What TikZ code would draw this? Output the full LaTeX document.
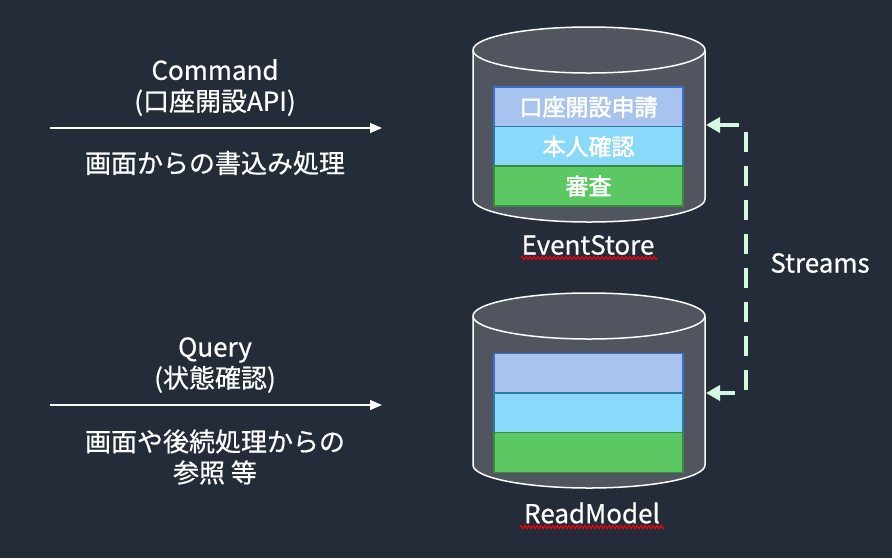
\documentclass[tikz,border=0pt]{standalone}
\usepackage{fontspec}
\setmainfont{Noto Sans CJK JP}
\newfontfamily\lblfont[FakeBold=0.6]{Noto Sans CJK JP}
\newfontfamily\rowfont[FakeBold=2]{Noto Sans CJK JP}
\usepackage{tikz}
\usetikzlibrary{arrows.meta}
\usetikzlibrary{decorations.pathmorphing}
\definecolor{bgnavy}{RGB}{36,44,58}
\definecolor{cylgray}{RGB}{80,85,96}
\definecolor{mint}{RGB}{212,247,226}
\definecolor{rowAfill}{RGB}{168,196,238}
\definecolor{rowAdraw}{RGB}{58,110,210}
\definecolor{rowBfill}{RGB}{138,216,250}
\definecolor{rowBdraw}{RGB}{46,120,168}
\definecolor{rowCfill}{RGB}{92,200,100}
\definecolor{rowCdraw}{RGB}{56,140,64}
\tikzstyle{lbl}=[text=white, font=\lblfont\fontsize{26}{31}\selectfont, align=center, inner sep=0pt]
\tikzstyle{rowbox}=[draw, line width=1.5pt, minimum width=189pt, minimum height=40pt, inner sep=0pt, text=white, font=\rowfont\fontsize{23}{23}\selectfont]
\tikzstyle{cyl}=[fill=cylgray, draw=white, line width=1.5pt]
\tikzstyle{flow}=[draw=white, line width=1.2pt, -{Triangle[length=12pt,width=10pt]}]
\tikzstyle{stream}=[draw=mint, line width=4pt, dash pattern=on 20pt off 14pt, {Triangle[length=14pt,width=15pt]}-{Triangle[length=14pt,width=15pt]}]
\tikzstyle{spell}=[draw=red, line width=1pt, decorate, decoration={zigzag, segment length=4pt, amplitude=1.5pt}]

\begin{document}
\begin{tikzpicture}[x=1pt, y=-1pt]

  \useasboundingbox (0,0) rectangle (892,558);
  \fill[bgnavy] (0,0) rectangle (892,558);

  \def\h{149};

  % the two stores
  \foreach \yc in {50, 316} {
    \draw[cyl] (473,\yc) -- (473,\yc+\h) arc[start angle=180, end angle=360, x radius=116pt, y radius=23pt]
       -- (705,\yc) arc[start angle=0, end angle=180, x radius=116pt, y radius=23pt] -- cycle;
    \draw[cyl, fill=none] (473,\yc) arc[start angle=180, end angle=360, x radius=116pt, y radius=23pt];
  }

  \foreach \y/\fc/\dc/\name/\txt in {107/rowAfill/rowAdraw/esA/口座開設申請, 146.5/rowBfill/rowBdraw/esB/本人確認, 186/rowCfill/rowCdraw/esC/審査,
                                     373.5/rowAfill/rowAdraw/rmA/{}, 413/rowBfill/rowBdraw/rmB/{}, 452.5/rowCfill/rowCdraw/rmC/{}}
          \node[rowbox, fill=\fc, draw=\dc] (\name) at (588.5,\y) {\txt};

  \node[lbl] (esname) at (588,245) {EventStore};
  \node[lbl] (rmname) at (592,513) {ReadModel};
  \draw[spell] (521,258) -- (657,258);
  \draw[spell] (520,527) -- (664,527);

  % left side
  \node[lbl] (cmd) at (215,87.5) {Command\\(口座開設API)};
  \node[lbl] (cmddesc) at (215,163) {画面からの書込み処理};
  \node[lbl] (qry) at (215,365) {Query\\(状態確認)};
  \node[lbl] (qrydesc) at (215,457) {画面や後続処理からの\\参照 等};

  \coordinate (cmdin) at (50,128);
  \coordinate (cmdout) at (382,128);
  \coordinate (qryin) at (50,405);
  \coordinate (qryout) at (382,405);
  \draw[flow] (cmdin) -- (cmdout);
  \draw[flow] (qryin) -- (qryout);

  % streams
  \coordinate (esport) at (706,125);
  \coordinate (rmport) at (706,393);
  \draw[stream] (esport) -- ++(40,0) |- (rmport);
  \node[lbl] (streams) at (820,263) {Streams};

\end{tikzpicture}
\end{document}
